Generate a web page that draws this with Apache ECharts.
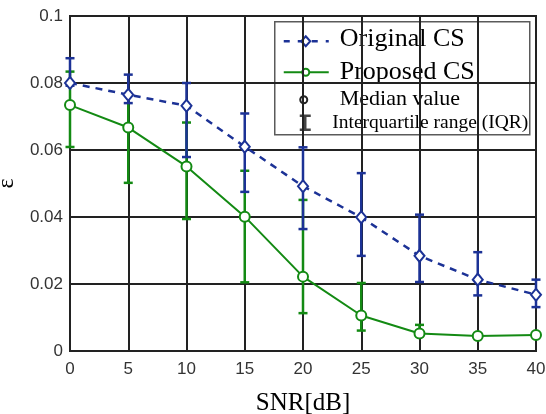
<!DOCTYPE html>
<html>
<head>
<meta charset="utf-8">
<script src="https://cdn.jsdelivr.net/npm/echarts@6/dist/echarts.min.js"></script>
<style>html,body{margin:0;padding:0;background:#fff;}#c{width:546px;height:414px;}</style>
</head>
<body>
<div id="c"></div>
<script>
var snr = [0, 5, 10, 15, 20, 25, 30, 35, 40];
var origMedian = [0.0800, 0.0765, 0.0732, 0.0610, 0.0492, 0.0399, 0.0284, 0.0213, 0.0168];
var origQ1 = [0.0792, 0.0740, 0.0579, 0.0475, 0.0364, 0.0284, 0.0206, 0.0166, 0.0131];
var origQ3 = [0.0874, 0.0825, 0.0800, 0.0709, 0.0608, 0.0531, 0.0407, 0.0295, 0.0213];
var propMedian = [0.0734, 0.0667, 0.0551, 0.0401, 0.0222, 0.0106, 0.0052, 0.0045, 0.0048];
var propQ1 = [0.0609, 0.0502, 0.0394, 0.0205, 0.0113, 0.0061, 0.0045, 0.0040, 0.0044];
var propQ3 = [0.0834, 0.0765, 0.0682, 0.0538, 0.0451, 0.0203, 0.0078, 0.0052, 0.0051];
var yTicks = [0, 0.02, 0.04, 0.06, 0.08, 0.1];
var legendNames = ['Original CS', 'Proposed CS', 'Median value', 'Interquartile range (IQR)'];

var BLUE = '#1c3296';
var GREEN = '#138a13';
var GRID = '#222222';

function pairs(xs, ys) { return xs.map(function (x, i) { return [x, ys[i]]; }); }
function triples(xs, lo, hi) { return xs.map(function (x, i) { return [x, lo[i], hi[i]]; }); }

function errRender(color) {
  return function (params, api) {
    var x = api.value(0), lo = api.value(1), hi = api.value(2);
    var pt = api.coord([x, hi]);
    var pb = api.coord([x, lo]);
    var w = 4.5;
    var st = { stroke: color, lineWidth: 2.5, fill: null };
    return {
      type: 'group',
      children: [
        { type: 'line', shape: { x1: pt[0], y1: pt[1], x2: pb[0], y2: pb[1] }, style: st },
        { type: 'line', shape: { x1: pt[0] - w, y1: pt[1], x2: pt[0] + w, y2: pt[1] }, style: st },
        { type: 'line', shape: { x1: pb[0] - w, y1: pb[1], x2: pb[0] + w, y2: pb[1] }, style: st }
      ]
    };
  };
}

var chart = echarts.init(document.getElementById('c'), null, { renderer: 'canvas' });

var serif = 'Liberation Serif';
var legendX = 274, legendY = 21;

var option = {
  animation: false,
  backgroundColor: '#fff',
  grid: { left: 70, right: 10, top: 16, bottom: 63, containLabel: false, outerBoundsMode: 'none', show: true, borderColor: GRID, borderWidth: 2, backgroundColor: 'transparent' },
  xAxis: {
    type: 'value', min: 0, max: 40, interval: 5,
    name: 'SNR[dB]', nameLocation: 'middle', nameGap: 40,
    nameTextStyle: { fontFamily: serif, fontSize: 25, color: '#000' },
    axisLine: { show: true, lineStyle: { color: GRID, width: 2 } },
    axisTick: { show: false },
    axisLabel: { fontFamily: 'Liberation Sans', fontSize: 17, color: '#333', margin: 10 },
    splitLine: { show: true, lineStyle: { color: GRID, width: 2 } }
  },
  yAxis: {
    type: 'value', min: 0, max: 0.1, interval: 0.02,
    name: 'ε', nameLocation: 'middle', nameGap: 47, nameRotate: 90,
    nameTextStyle: { fontFamily: serif, fontSize: 24, color: '#000' },
    axisLine: { show: true, lineStyle: { color: GRID, width: 2 } },
    axisTick: { show: false },
    axisLabel: {
      fontFamily: 'Liberation Sans', fontSize: 17, color: '#333', margin: 7,
      formatter: function (v) {
        for (var i = 0; i < yTicks.length; i++) if (Math.abs(yTicks[i] - v) < 1e-9) return String(yTicks[i]);
        return '';
      }
    },
    splitLine: { show: true, lineStyle: { color: GRID, width: 2 } }
  },
  series: [
    {
      name: 'Proposed CS IQR', type: 'custom', renderItem: errRender(GREEN),
      data: triples(snr, propQ1, propQ3), z: 3, silent: true
    },
    {
      name: legendNames[1], type: 'line', data: pairs(snr, propMedian),
      lineStyle: { color: GREEN, width: 2 },
      symbol: 'emptyCircle', symbolSize: 10,
      itemStyle: { color: GREEN, borderColor: GREEN, borderWidth: 2 }, z: 4
    },
    {
      name: 'Original CS IQR', type: 'custom', renderItem: errRender(BLUE),
      data: triples(snr, origQ1, origQ3), z: 5, silent: true
    },
    {
      name: legendNames[0], type: 'line', data: pairs(snr, origMedian),
      lineStyle: { color: BLUE, width: 2.5, type: [7, 6] },
      symbol: 'emptyDiamond', symbolSize: [10, 12],
      itemStyle: { color: BLUE, borderColor: BLUE, borderWidth: 3 }, z: 6
    }
  ],
  graphic: [
    {
      type: 'group', left: legendX, top: legendY, z: 100,
      children: [
        { type: 'rect', shape: { x: 0, y: 0, width: 255, height: 113 }, style: { fill: '#fff', stroke: '#5a5a5a', lineWidth: 1.5 } },
        { type: 'line', shape: { x1: 9, y1: 19.5, x2: 54, y2: 19.5 }, style: { stroke: BLUE, lineWidth: 2.5, lineDash: [6, 8] } },
        { type: 'polygon', shape: { points: [[31, 14.5], [35.5, 19.5], [31, 24.5], [26.5, 19.5]] }, style: { fill: '#fff', stroke: BLUE, lineWidth: 2 } },
        { type: 'text', x: 65, y: 17, style: { text: legendNames[0], font: '26px "Liberation Serif"', fill: '#000', verticalAlign: 'middle' } },
        { type: 'line', shape: { x1: 9, y1: 50.5, x2: 54, y2: 50.5 }, style: { stroke: GREEN, lineWidth: 2 } },
        { type: 'circle', shape: { cx: 31, cy: 50.5, r: 3.5 }, style: { fill: '#fff', stroke: GREEN, lineWidth: 2 } },
        { type: 'text', x: 65, y: 50, style: { text: legendNames[1], font: '26px "Liberation Serif"', fill: '#000', verticalAlign: 'middle' } },
        { type: 'circle', shape: { cx: 29, cy: 78, r: 3.5 }, style: { fill: '#fff', stroke: '#222', lineWidth: 2 } },
        { type: 'text', x: 65, y: 77.5, style: { text: legendNames[2], font: '22px "Liberation Serif"', fill: '#000', verticalAlign: 'middle' } },
        { type: 'line', shape: { x1: 30.5, y1: 94, x2: 30.5, y2: 108 }, style: { stroke: '#444', lineWidth: 2.5 } },
        { type: 'line', shape: { x1: 25, y1: 94, x2: 36, y2: 94 }, style: { stroke: '#444', lineWidth: 2.5 } },
        { type: 'line', shape: { x1: 25, y1: 108, x2: 36, y2: 108 }, style: { stroke: '#444', lineWidth: 2.5 } },
        { type: 'text', x: 57.5, y: 101.5, style: { text: legendNames[3], font: '19.5px "Liberation Serif"', fill: '#000', verticalAlign: 'middle' } }
      ]
    }
  ]
};
chart.setOption(option);
</script>
</body>
</html>
